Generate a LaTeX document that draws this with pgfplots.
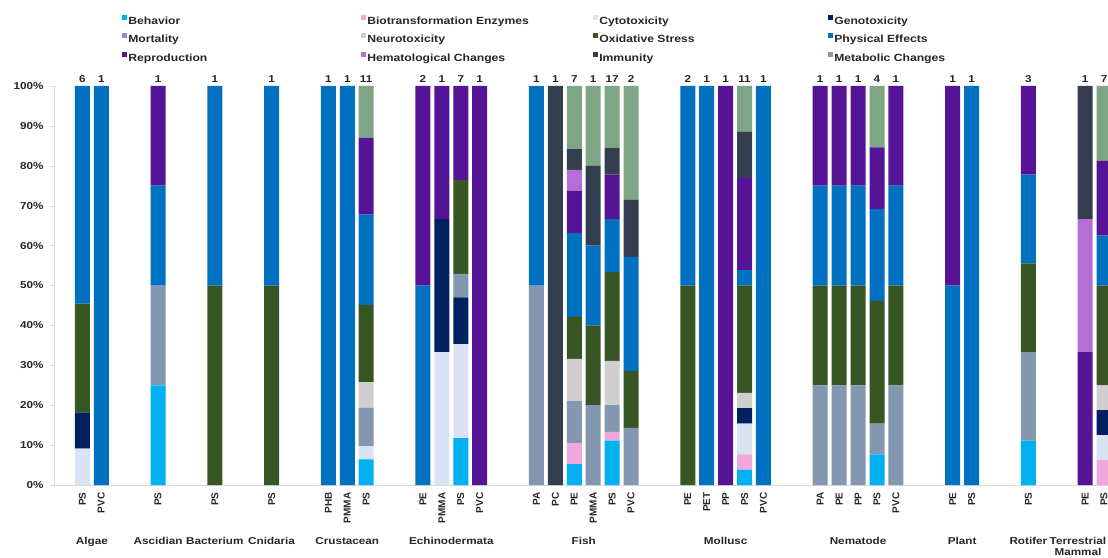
\documentclass[border=0pt]{standalone}
\usepackage{fontspec}
\setmainfont{Liberation Sans}[FakeStretch=1.17]
\newfontfamily\rotfont{Liberation Sans}
\usepackage{pgfplots}
\usepackage{pgfplotstable}
\pgfplotsset{compat=1.18}
\definecolor{cbeh}{HTML}{00B0F0}
\definecolor{cbio}{HTML}{F0A8DC}
\definecolor{ccyt}{HTML}{DAE3F3}
\definecolor{cgen}{HTML}{002060}
\definecolor{cmor}{HTML}{8497B0}
\definecolor{cneu}{HTML}{D0CECE}
\definecolor{coxi}{HTML}{375623}
\definecolor{cphy}{HTML}{0070C0}
\definecolor{crep}{HTML}{551496}
\definecolor{chem}{HTML}{B56ED6}
\definecolor{cimm}{HTML}{333F50}
\definecolor{cmet}{HTML}{7EA585}
\definecolor{txt}{HTML}{262626}
\definecolor{lgray}{HTML}{D9D9D9}
\pgfplotsset{sqleg/.style={legend image code/.code={\fill[#1] (0pt,1pt) rectangle (5pt,6pt);}}}
\pgfplotstableread{
x lab beh bio cyt gen mor neu oxi phy rep hem imm met n
0 PS 0 0 9.09 9.09 0 0 27.27 54.55 0 0 0 0 6
1 PVC 0 0 0 0 0 0 0 100 0 0 0 0 1
4 PS 25 0 0 0 25 0 0 25 25 0 0 0 1
7 PS 0 0 0 0 0 0 50 50 0 0 0 0 1
10 PS 0 0 0 0 0 0 50 50 0 0 0 0 1
13 PHB 0 0 0 0 0 0 0 100 0 0 0 0 1
14 PMMA 0 0 0 0 0 0 0 100 0 0 0 0 1
15 PS 6.45 0 3.23 0 9.68 6.45 19.35 22.58 19.35 0 0 12.91 11
18 PE 0 0 0 0 0 0 0 50 50 0 0 0 2
19 PMMA 0 0 33.33 33.33 0 0 0 0 33.34 0 0 0 1
20 PS 11.76 0 23.53 11.76 5.88 0 23.53 0 23.54 0 0 0 7
21 PVC 0 0 0 0 0 0 0 0 100 0 0 0 1
24 PA 0 0 0 0 50 0 0 50 0 0 0 0 1
25 PC 0 0 0 0 0 0 0 0 0 0 100 0 1
26 PE 5.26 5.26 0 0 10.53 10.53 10.53 21.05 10.53 5.26 5.26 15.79 7
27 PMMA 0 0 0 0 20 0 20 20 0 0 20 20 1
28 PS 11.11 2.22 0 0 6.67 11.11 22.22 13.33 11.11 0 6.67 15.56 17
29 PVC 0 0 0 0 14.29 0 14.29 28.57 0 0 14.29 28.56 2
32 PE 0 0 0 0 0 0 50 50 0 0 0 0 2
33 PET 0 0 0 0 0 0 0 100 0 0 0 0 1
34 PP 0 0 0 0 0 0 0 0 100 0 0 0 1
35 PS 3.85 3.85 7.69 3.85 0 3.85 26.92 3.85 23.08 0 11.54 11.52 11
36 PVC 0 0 0 0 0 0 0 100 0 0 0 0 1
39 PA 0 0 0 0 25 0 25 25 25 0 0 0 1
40 PE 0 0 0 0 25 0 25 25 25 0 0 0 1
41 PP 0 0 0 0 25 0 25 25 25 0 0 0 1
42 PS 7.69 0 0 0 7.69 0 30.77 23.08 15.38 0 0 15.39 4
43 PVC 0 0 0 0 25 0 25 25 25 0 0 0 1
46 PE 0 0 0 0 0 0 0 50 50 0 0 0 1
47 PS 0 0 0 0 0 0 0 100 0 0 0 0 1
50 PS 11.11 0 0 0 22.22 0 22.22 22.22 22.23 0 0 0 3
53 PE 0 0 0 0 0 0 0 0 33.33 33.33 33.34 0 1
54 PS 0 6.25 6.25 6.25 0 6.25 25 12.5 18.75 0 0 18.75 7
}\datatable
\newcommand{\legA}[1]{\makebox[232pt][l]{\rule[-3pt]{0pt}{12pt}#1}}
\newcommand{\legB}[1]{\makebox[225pt][l]{\rule[-3pt]{0pt}{12pt}#1}}
\newcommand{\legC}[1]{\makebox[228pt][l]{\rule[-3pt]{0pt}{12pt}#1}}
\newcommand{\legD}[1]{\makebox[150pt][l]{\rule[-3pt]{0pt}{12pt}#1}}
\newcommand{\gfont}{\fontsize{10}{12}\selectfont\bfseries}
\begin{document}
\begin{tikzpicture}
\begin{axis}[
  scale only axis, width=1054pt, height=399pt,
  xmin=-1.5, xmax=54.21, ymin=0, ymax=100,
  ybar stacked, bar width=15pt,
  clip=false,
  axis x line=bottom, axis y line=left,
  axis line style={draw=lgray, -},
  ytick={0,10,...,100},
  yticklabel={\pgfmathprintnumber{\tick}\%},
  /pgf/number format/assume math mode=true,
  yticklabel style={font=\gfont, text=txt, xshift=-3pt},
  tick align=outside, major tick length=4pt,
  ytick style={draw=lgray},
  xtick=data, xticklabels from table={\datatable}{lab},
  xticklabel style={rotate=90, anchor=east, font=\rotfont\fontsize{10}{12}\selectfont\bfseries, text=txt},
  xtick style={draw=none},
  extra x ticks={-1.5,2.5,5.5,8.5,11.5,16.5,22.5,30.5,37.5,44.5,48.5,51.5},
  extra x tick labels={},
  extra x tick style={major tick length=72pt, tick style={draw=lgray, line width=0.8pt}},
  legend columns=4,
  legend style={at={(0.0646,1.18)}, anchor=north west, draw=none, fill=none, inner sep=0pt,
    nodes={inner sep=1pt}, font=\fontsize{10.4}{12}\selectfont\bfseries, text=txt,
    /tikz/every even column/.append style={column sep=0pt}, row sep=6pt},
]
\addplot[fill=cbeh, draw=none, sqleg] table[x=x, y=beh] {\datatable}; \addlegendentry{\legA{Behavior}}
\addplot[fill=cbio, draw=none, sqleg] table[x=x, y=bio] {\datatable}; \addlegendentry{\legB{Biotransformation Enzymes}}
\addplot[fill=ccyt, draw=none, sqleg] table[x=x, y=cyt] {\datatable}; \addlegendentry{\legC{Cytotoxicity}}
\addplot[fill=cgen, draw=none, sqleg] table[x=x, y=gen] {\datatable}; \addlegendentry{\legD{Genotoxicity}}
\addplot[fill=cmor, draw=none, sqleg] table[x=x, y=mor] {\datatable}; \addlegendentry{\legA{Mortality}}
\addplot[fill=cneu, draw=none, sqleg] table[x=x, y=neu] {\datatable}; \addlegendentry{\legB{Neurotoxicity}}
\addplot[fill=coxi, draw=none, sqleg] table[x=x, y=oxi] {\datatable}; \addlegendentry{\legC{Oxidative Stress}}
\addplot[fill=cphy, draw=none, sqleg] table[x=x, y=phy] {\datatable}; \addlegendentry{\legD{Physical Effects}}
\addplot[fill=crep, draw=none, sqleg] table[x=x, y=rep] {\datatable}; \addlegendentry{\legA{Reproduction}}
\addplot[fill=chem, draw=none, sqleg] table[x=x, y=hem] {\datatable}; \addlegendentry{\legB{Hematological Changes}}
\addplot[fill=cimm, draw=none, sqleg] table[x=x, y=imm] {\datatable}; \addlegendentry{\legC{Immunity}}
\addplot[fill=cmet, draw=none, sqleg] table[x=x, y=met] {\datatable}; \addlegendentry{\legD{Metabolic Changes}}
\node[font=\gfont, text=txt, anchor=base, yshift=-59pt] at (axis cs:0.5,0) {Algae};
\node[font=\gfont, text=txt, anchor=base, yshift=-59pt] at (axis cs:4,0) {Ascidian};
\node[font=\gfont, text=txt, anchor=base, yshift=-59pt] at (axis cs:7,0) {Bacterium};
\node[font=\gfont, text=txt, anchor=base, yshift=-59pt] at (axis cs:10,0) {Cnidaria};
\node[font=\gfont, text=txt, anchor=base, yshift=-59pt] at (axis cs:14,0) {Crustacean};
\node[font=\gfont, text=txt, anchor=base, yshift=-59pt] at (axis cs:19.5,0) {Echinodermata};
\node[font=\gfont, text=txt, anchor=base, yshift=-59pt] at (axis cs:26.5,0) {Fish};
\node[font=\gfont, text=txt, anchor=base, yshift=-59pt] at (axis cs:34,0) {Mollusc};
\node[font=\gfont, text=txt, anchor=base, yshift=-59pt] at (axis cs:41,0) {Nematode};
\node[font=\gfont, text=txt, anchor=base, yshift=-59pt] at (axis cs:46.5,0) {Plant};
\node[font=\gfont, text=txt, anchor=base, yshift=-59pt] at (axis cs:50,0) {Rotifer};
\node[font=\gfont, text=txt, anchor=base, yshift=-59pt] at (axis cs:52.62,0) {Terrestrial};
\node[font=\gfont, text=txt, anchor=base, yshift=-70pt] at (axis cs:52.62,0) {Mammal};
\end{axis}
\begin{axis}[
  scale only axis, width=1054pt, height=399pt,
  xmin=-1.5, xmax=54.21, ymin=0, ymax=100,
  hide axis, clip=false,
  /pgf/number format/assume math mode=true,
]
\addplot[only marks, mark=*, mark size=0pt, mark options={draw=none, fill=none},
  nodes near coords, point meta=explicit,
  nodes near coords style={font=\gfont, text=txt, anchor=south, inner sep=3pt}]
  table[x=x, y expr=100, meta=n] {\datatable};
\end{axis}
\pgfresetboundingbox
\path[use as bounding box] (-54pt,-72pt) rectangle (1054pt,485pt);
\end{tikzpicture}
\end{document}
